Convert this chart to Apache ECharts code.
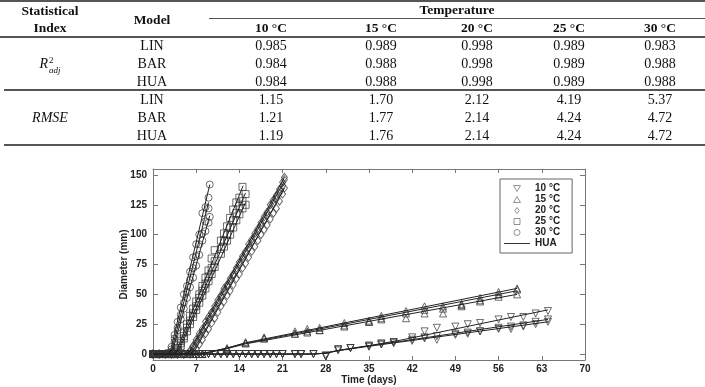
<!DOCTYPE html>
<html><head><meta charset="utf-8">
<script src="https://cdn.jsdelivr.net/npm/echarts@6/dist/echarts.min.js"></script>
<style>
html,body{margin:0;padding:0;background:#fff;}
#wrap{position:relative;width:705px;height:387px;overflow:hidden;background:#fff;}
#chart{position:absolute;left:0;top:0;width:705px;height:387px;}
#tbl{position:absolute;left:0;top:0;width:705px;height:150px;font-family:"Liberation Serif","Times New Roman",serif;color:#111;}
.t{position:absolute;transform:translate(-50%,-50%);white-space:nowrap;font-size:14px;line-height:1;}
.b{font-weight:bold;font-size:13.5px;}
.ln{position:absolute;background:#555;}
</style></head>
<body><div id="wrap"><div id="chart"></div><div id="tbl"></div></div>
<script>
// ---------- table data ----------
const tempLabels = ['10 °C','15 °C','20 °C','25 °C','30 °C'];
const models = ['LIN','BAR','HUA'];
const r2LIN = [0.985,0.989,0.998,0.989,0.983];
const r2BAR = [0.984,0.988,0.998,0.989,0.988];
const r2HUA = [0.984,0.988,0.998,0.989,0.988];
const rmseLIN = [1.15,1.70,2.12,4.19,5.37];
const rmseBAR = [1.21,1.77,2.14,4.24,4.72];
const rmseHUA = [1.19,1.76,2.14,4.24,4.72];

// ---------- chart data ----------
const xTicks = [0,7,14,21,28,35,42,49,56,63,70];
const yTicks = [0,25,50,75,100,125,150];
const legendNames = ['10 °C','15 °C','20 °C','25 °C','30 °C','HUA'];

const t10 = [0,1,2,3,4,5,6,7,8,9,10,11,12,13,14,15,16,17,18,19,20,21,23,24,26,28,30,32,35,37,39,42,44,46,49,51,53,56,58,60,62,64];
const d10a = [0,0,0,0,0,0,0,0,0,0,0,0,0,0,0,0,0,0,0,0,0,0,0,0,0,-2,4,5,7,9,10,14,19,22,23,25,26,29,31,31,34,36];
const d10b = [0,0,0,0,0,0,0,0,0,0,0,0,0,0,0,0,0,0,0,0,0,0,0,0,0,-1,4,5,7,8,10,12,14,15,17,18,19,22,23,24,27,29];
const d10c = [0,0,0,0,0,0,0,0,0,0,0,0,0,0,0,0,0,0,0,0,0,0,0,0,0,-2,3,5,6,8,9,11,13,12,16,17,19,21,21,23,25,27];
const h10a = [[0,0],[26,0],[28,0.8],[30,3],[35,7],[40,11.5],[64,37]];
const h10b = [[0,0],[26,0],[28,0.8],[30,3],[35,7],[40,10.5],[64,29]];
const h10c = [[0,0],[26,0],[28,0.7],[30,2.8],[35,6.5],[40,10],[64,27]];

const t15 = [0,1,2,3,4,5,6,7,8,12,15,18,23,25,27,31,35,37,41,44,47,50,53,56,59];
const d15a = [0,0,0,0,0,0,0,0,0,5,10,14,19,21,22,26,28,32,36,40,40,42,47,52,55];
const d15b = [0,0,0,0,0,0,0,0,0,4,9,13,17,19,20,24,27,30,34,37,38,41,45,50,54];
const d15c = [0,0,0,0,0,0,0,0,0,4,9,13,17,18,20,23,27,29,30,34,34,40,44,48,50];
const h15a = [[0,0],[7,0],[9,1.5],[12,5],[15,9.5],[59,55]];
const h15b = [[0,0],[7,0],[9,1.5],[12,5],[15,9],[59,53]];
const h15c = [[0,0],[7,0],[9,1.3],[12,4.5],[15,8.5],[59,50]];

const t20 = [0,1,2,3,4,5,6,6.5,7,7.5,8,8.5,9,9.5,10,10.5,11,11.5,12,12.5,13,13.5,14,14.5,15,15.5,16,16.5,17,17.5,18,18.5,19,19.5,20,20.5,21,21.3];
const d20a = [0,0,0,0,0,0,3,7,12,17,21,27,31,35,40,45,49,55,58,63,67,72,77,82,86,92,96,101,105,110,115,119,125,129,133,138,144,148];
const d20b = [0,0,0,0,0,0,2,6,10,15,19,24,29,34,38,43,48,53,57,61,66,70,75,80,84,89,94,98,103,108,112,116,121,126,130,135,141,146];
const d20c = [0,0,0,0,0,0,0,1,4,8,12,17,21,26,30,35,40,44,49,53,58,63,67,72,76,81,86,90,95,100,104,108,113,118,122,128,134,139];
const h20a = [[0,0],[5.2,0],[6,3],[21.3,148]];
const h20b = [[0,0],[5.4,0],[6.2,3],[21.3,145]];
const h20c = [[0,0],[5.8,0],[6.8,3],[21.3,139]];

const t25 = [0,1,2,3,3.5,4,4.5,5,5.5,6,6.5,7,7.5,8,8.5,9,9.5,10,11,11.5,12,12.5,13,13.5,14,14.5,15];
const d25a = [0,0,0,0,1,5,11,18,25,32,38,44,50,57,64,70,80,87,95,101,107,114,121,127,131,140,null];
const d25b = [0,0,0,0,0,3,9,15,22,28,34,40,47,53,59,65,72,78,88,95,100,106,112,118,124,128,134];
const d25c = [0,0,0,0,0,2,7,13,19,25,31,37,43,49,55,61,67,73,84,90,95,100,106,112,117,122,125];
const h25a = [[0,0],[3.2,0],[3.9,4],[14.6,141]];
const h25b = [[0,0],[3.4,0],[4.1,4],[15,135]];
const h25c = [[0,0],[3.5,0],[4.2,3],[15,127]];

const t30 = [0,0.5,1,1.5,2,2.5,3,3.5,4,4.5,5,5.5,6,6.5,7,7.5,8,8.5,9,9.2];
const d30a = [0,0,0,0,0,1,6,16,27,39,50,57,69,81,92,100,118,123,131,142];
const d30b = [0,0,0,0,0,0,4,13,22,33,43,52,62,72,82,92,101,111,122,null];
const d30c = [0,0,0,0,0,0,2,10,20,29,38,47,56,64,74,83,95,103,110,115];
const h30a = [[0,0],[2.4,0],[2.9,4],[9.2,142]];
const h30b = [[0,0],[2.6,0],[3.1,4],[9.0,127]];
const h30c = [[0,0],[2.7,0],[3.2,3],[9.2,116]];

// ---------- table ----------
const tbl = document.getElementById('tbl');
function txt(html, x, y, cls){ const d=document.createElement('div'); d.className='t'+(cls?' '+cls:''); d.style.left=x+'px'; d.style.top=y+'px'; d.innerHTML=html; tbl.appendChild(d); }
function line(x1, x2, y, h){ const d=document.createElement('div'); d.className='ln'; d.style.left=x1+'px'; d.style.width=(x2-x1)+'px'; d.style.top=y+'px'; d.style.height=h+'px'; tbl.appendChild(d); }
const colX = [271,381,477,569,660];
const modelX = 152, idxX = 50;
const rowY = [46,64,82,100,118,136];
line(0,705,0,2); line(209,705,18,1); line(0,705,36,1.5); line(4,705,89,1.5); line(4,705,144,2);
txt('Statistical', idxX, 11, 'b'); txt('Index', idxX, 28, 'b');
txt('Model', modelX, 20, 'b');
txt('Temperature', 457, 10, 'b');
tempLabels.forEach((s,i)=>txt(s, colX[i], 28, 'b'));
txt('<i>R</i><span style="display:inline-block;vertical-align:middle;line-height:9px;font-size:9px;margin-left:1px"><span style="display:block">2</span><span style="display:block;margin-top:1px"><i>adj</i></span></span>', idxX, 65);
txt('<i>RMSE</i>', idxX, 118);
const blocks = [[r2LIN,r2BAR,r2HUA,3],[rmseLIN,rmseBAR,rmseHUA,2]];
blocks.forEach((b,bi)=>{
  for(let m=0;m<3;m++){
    const y=rowY[bi*3+m];
    txt(models[m], modelX, y);
    b[m].forEach((v,i)=>txt(v.toFixed(b[3]), colX[i], y));
  }
});

// ---------- chart ----------
const FONT = '"Liberation Sans", Arial, sans-serif';
const stroke = '#333';
function sc(name, symbol, rot, size, ts, vs){
  return {type:'scatter', name, symbol, symbolRotate:rot, symbolSize:size, clip:false, z:2,
    itemStyle:{color:'rgba(255,255,255,0)', borderColor:stroke, borderWidth:0.9},
    data: ts.map((t,i)=>[t,vs[i]]).filter(p=>p[1]!==null)};
}
function hl(pts){
  return {type:'line', name:'HUA', data:pts, symbol:'none', showSymbol:false, clip:false, z:3,
    lineStyle:{color:'#222', width:1}, itemStyle:{color:'#222'}};
}
const series = [
  sc('10 °C','triangle',180,7,t10,d10a), sc('10 °C','triangle',180,7,t10,d10b), sc('10 °C','triangle',180,7,t10,d10c),
  sc('15 °C','triangle',0,7,t15,d15a), sc('15 °C','triangle',0,7,t15,d15b), sc('15 °C','triangle',0,7,t15,d15c),
  sc('20 °C','diamond',0,[6,8],t20,d20a), sc('20 °C','diamond',0,[6,8],t20,d20b), sc('20 °C','diamond',0,[6,8],t20,d20c),
  sc('25 °C','rect',0,7,t25,d25a), sc('25 °C','rect',0,7,t25,d25b), sc('25 °C','rect',0,7,t25,d25c),
  sc('30 °C','circle',0,7,t30,d30a), sc('30 °C','circle',0,7,t30,d30b), sc('30 °C','circle',0,7,t30,d30c),
  hl(h10a), hl(h10b), hl(h10c), hl(h15a), hl(h15b), hl(h15c), hl(h20a), hl(h20b), hl(h20c),
  hl(h25a), hl(h25b), hl(h25c), hl(h30a), hl(h30b), hl(h30c)
];
// legend icons (shape only, kept square inside the item box)
const legendIcons = [
  'path://M0,0L10,0L5,8.66Z',
  'path://M5,0L10,8.66L0,8.66Z',
  'path://M4,0L8,5.5L4,11L0,5.5Z',
  'path://M0,0L10,0L10,10L0,10Z',
  'path://M5,0A5,5,0,1,1,4.99,0Z',
  'path://M0,0L26,0L26,1L0,1Z'
];
const hollow = {color:'rgba(255,255,255,0)', borderColor:'#555', borderWidth:0.8};
const legendData = legendNames.map((n,i)=>({name:n, icon:legendIcons[i],
  itemStyle: i<5 ? hollow : {color:'#333', borderWidth:0}}));
const axisCol = '#777';
const labelStyle = {color:'#222', fontSize:10, fontWeight:'bold', fontFamily:FONT};
const chart = echarts.init(document.getElementById('chart'), null, {renderer:'canvas'});
chart.setOption({
  animation:false,
  backgroundColor:'rgba(0,0,0,0)',
  grid:{left:153, right:120, top:169, bottom:27, containLabel:false},
  legend:{data:legendData, orient:'vertical', left:500, top:179, itemWidth:26, itemHeight:6, itemGap:0,
    padding:[4,12,4,4], borderColor:'#666', borderWidth:1, selectedMode:false, symbolKeepAspect:true,
    textStyle:{fontSize:10, fontWeight:'bold', color:'#222', fontFamily:FONT, lineHeight:11}},
  xAxis:[
    {type:'value', min:0, max:70, interval:7, position:'bottom',
     axisLine:{show:true, onZero:false, lineStyle:{color:axisCol}},
     axisTick:{show:true, inside:true, length:4, lineStyle:{color:axisCol}},
     axisLabel:Object.assign({margin:4, customValues:xTicks}, labelStyle), splitLine:{show:false},
     name:'Time (days)', nameLocation:'middle', nameGap:15, nameMoveOverlap:false, nameTextStyle:labelStyle},
    {type:'value', min:0, max:70, interval:7, position:'top',
     axisLine:{show:true, onZero:false, lineStyle:{color:axisCol}},
     axisTick:{show:true, inside:true, length:4, lineStyle:{color:axisCol}},
     axisLabel:{show:false}, splitLine:{show:false}}
  ],
  yAxis:[
    {type:'value', min:-5, max:155, position:'left',
     axisLine:{show:true, onZero:false, lineStyle:{color:axisCol}},
     axisTick:{show:true, inside:true, length:5, customValues:yTicks, lineStyle:{color:axisCol}},
     axisLabel:Object.assign({margin:6, customValues:yTicks}, labelStyle), splitLine:{show:false},
     name:'Diameter (mm)', nameLocation:'middle', nameGap:24, nameMoveOverlap:false, nameRotate:90, nameTextStyle:labelStyle},
    {type:'value', min:-5, max:155, position:'right',
     axisLine:{show:true, onZero:false, lineStyle:{color:axisCol}},
     axisTick:{show:true, inside:true, length:5, customValues:yTicks, lineStyle:{color:axisCol}},
     axisLabel:{show:false}, splitLine:{show:false}}
  ],
  series
});
</script></body></html>
